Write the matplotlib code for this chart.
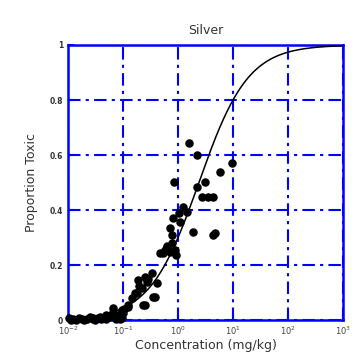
import matplotlib.pyplot as plt
import numpy as np

# logistic fit in log10(concentration)
midpoint = 0.38
slope = 0.447

# observed points: log10(concentration), proportion toxic
log_conc = [0.206, 0.35, 0.976, 0.76, -0.067, 0.49, 0.34, 0.43, 0.64, 0.55,
            0.10, 0.16, -0.085, 0.036, -0.145, -0.115, 0.267, 0.64, 0.68,
            -0.205, -0.33, -0.27, -0.036, -0.145, -0.48, -0.60, -0.39, -0.72,
            -0.57, -0.45, -0.78, -0.63, -0.90, -1.02, -1.18, -1.30, -1.42,
            -1.54, -1.18, -0.90, -0.75, -0.60, -0.42, -0.10, -0.05, 0.02,
            -1.95, -1.85, -1.75, -1.65, -1.55, -1.45, -1.35, -1.25, -1.15,
            -1.08, -1.00, -1.90, -1.70, -1.50, -1.30, -1.10, -1.05, -1.20,
            -1.98, -1.80, -1.60, -1.40, -1.28, -1.12, -1.02, -0.98, -0.84,
            -0.70, -0.55, -0.65, -0.20, -0.24]
prop_toxic = [0.642, 0.60, 0.57, 0.537, 0.503, 0.503, 0.483, 0.448, 0.446, 0.446,
              0.41, 0.394, 0.37, 0.357, 0.336, 0.309, 0.321, 0.309, 0.315,
              0.267, 0.245, 0.242, 0.236, 0.248, 0.17, 0.157, 0.136, 0.145,
              0.139, 0.085, 0.097, 0.055, 0.048, 0.036, 0.03, 0.018, 0.012,
              0.006, 0.044, 0.055, 0.097, 0.055, 0.083, 0.28, 0.255, 0.39,
              0.0, 0.0, 0.002, 0.003, 0.004, 0.006, 0.008, 0.01, 0.015,
              0.02, 0.025, 0.004, 0.0, 0.0, 0.003, 0.01, 0.005, 0.02,
              0.008, 0.006, 0.01, 0.004, 0.012, 0.002, 0.008, 0.04, 0.08,
              0.125, 0.15, 0.115, 0.27, 0.255]

x_ticks = [1e-2, 1e-1, 1e0, 1e1, 1e2, 1e3]
x_ticklabels = [r'$10^{-2}$', r'$10^{-1}$', r'$10^{0}$', r'$10^{1}$', r'$10^{2}$', r'$10^{3}$']
y_ticks = [0, 0.2, 0.4, 0.6, 0.8, 1]
y_ticklabels = ['0', '0.2', '0.4', '0.6', '0.8', '1']

fig = plt.figure(figsize=(3.54, 3.6), dpi=100)
ax = fig.add_axes([0.192, 0.111, 0.777, 0.764])

xs = np.logspace(-2, 3, 300)
curve = 1 / (1 + np.exp(-(np.log10(xs) - midpoint) / slope))
ax.plot(xs, curve, color='black', lw=1.1, zorder=3)
ax.scatter(10 ** np.array(log_conc), prop_toxic, s=26, color='black', zorder=4,
           clip_on=False)

ax.set_xscale('log')
ax.set_xlim(1e-2, 1e3)
ax.set_ylim(0, 1)
ax.set_xticks(x_ticks)
ax.set_xticklabels(x_ticklabels, fontsize=6, color='#444444')
ax.set_yticks(y_ticks)
ax.set_yticklabels(y_ticklabels, fontsize=5.5, fontweight='bold', color='#333333')
ax.minorticks_off()
ax.tick_params(direction='in', color='blue', length=4, width=1.5)
ax.grid(True, color='blue', lw=1.5, ls=(0, (6, 2.5, 1.5, 2.5)))
ax.set_axisbelow(True)
for sp in ax.spines.values():
    sp.set_color('blue')
    sp.set_linewidth(1.8)

ax.set_title('Silver', fontsize=9, color='#333333', pad=8)
ax.set_xlabel('Concentration (mg/kg)', fontsize=9, color='#333333', labelpad=1)
ax.set_ylabel('Proportion Toxic', fontsize=9, color='#333333', labelpad=8)

plt.savefig('out.png', dpi=100)
